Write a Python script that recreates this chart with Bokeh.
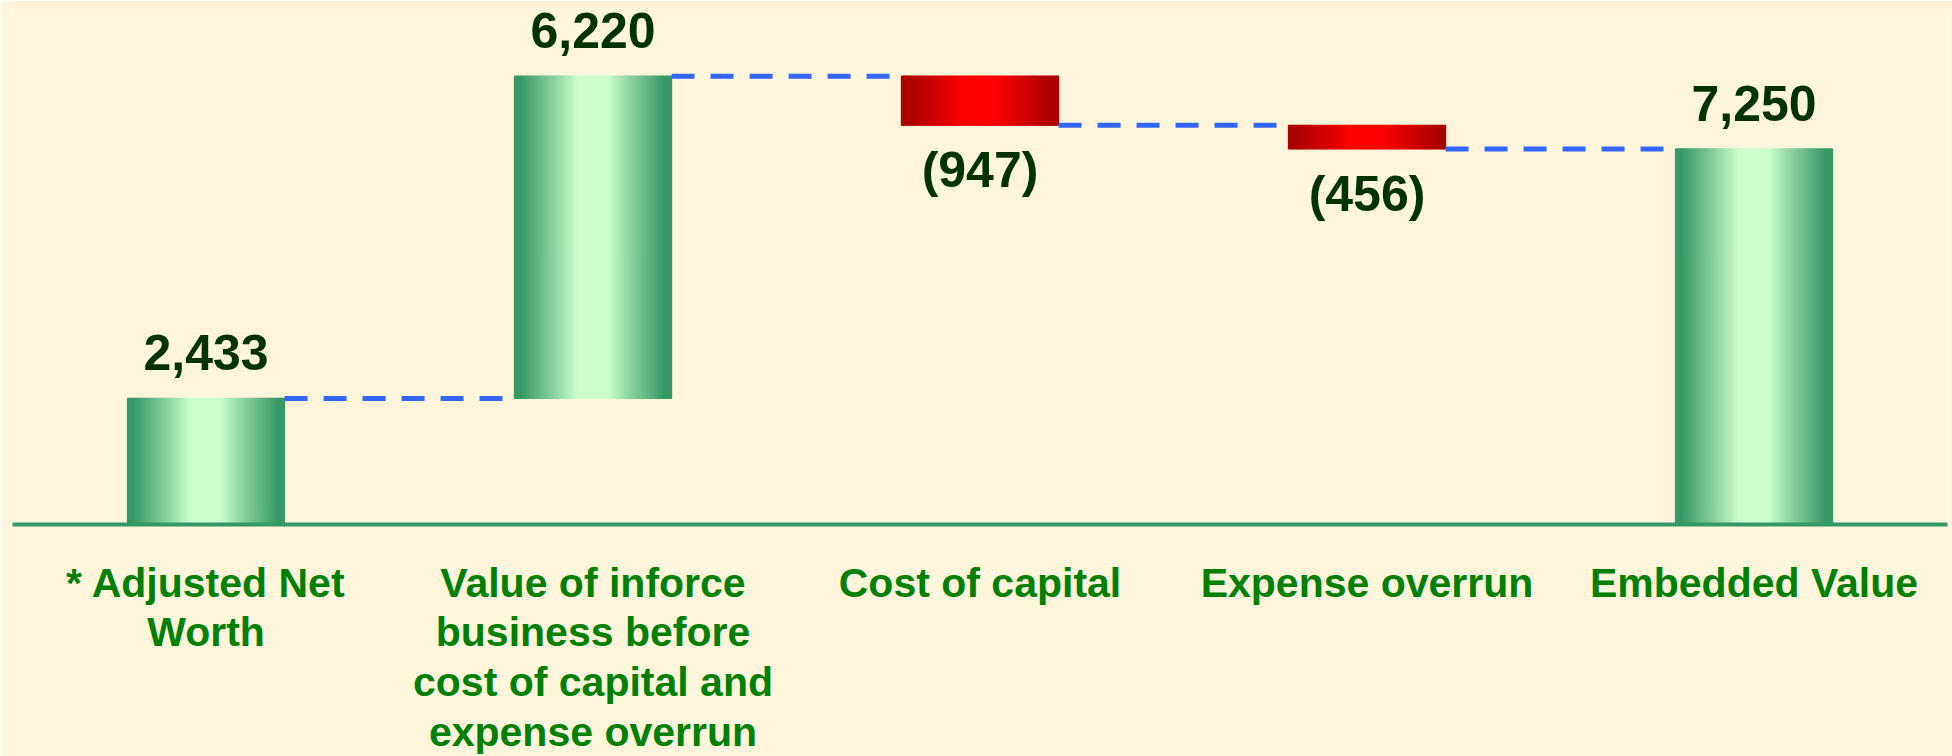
import numpy as np
from bokeh.plotting import figure
from bokeh.models import ColumnDataSource, Range1d, FixedTicker, LabelSet
from bokeh.core.properties import value
from bokeh.embed import file_html
from bokeh.resources import INLINE

# ---- data ----
categories = [
    "* Adjusted Net\nWorth",
    "Value of inforce\nbusiness before\ncost of capital and\nexpense overrun",
    "Cost of capital",
    "Expense overrun",
    "Embedded Value",
]
values = [2433, 6220, -947, -456, 7250]
is_total = [True, False, False, False, True]
value_labels = ["2,433", "6,220", "(947)", "(456)", "7,250"]

# ---- styles ----
BG = "#FFF5DA"
GREEN_EDGE, GREEN_MID = (0x36, 0x99, 0x66), (0xCC, 0xFF, 0xCC)
RED_EDGE, RED_MID = (0xAA, 0x00, 0x00), (0xFF, 0x00, 0x00)
BAR_W = 0.406

# waterfall geometry from data
bottoms, tops, levels = [], [], []
running = 0
for v, tot in zip(values, is_total):
    if tot:
        b, t = 0, v
        running = v
    else:
        start = running
        running = running + v
        b, t = min(start, running), max(start, running)
    bottoms.append(b)
    tops.append(t)
    levels.append(running)

p = figure(frame_width=1935, frame_height=516, output_backend="svg",
           toolbar_location=None, x_range=Range1d(-0.5, 4.5),
           y_range=Range1d(0, 9960), y_axis_location=None,
           min_border_left=12, min_border_right=5, min_border_top=8,
           min_border_bottom=232)
p.background_fill_color = BG
p.border_fill_color = BG
p.outline_line_color = None
p.grid.visible = False

# gradient bars made of thin strips
N = 60
u = (np.arange(N) + 0.5) / N
tt = np.abs(u - 0.5) * 2
mix = np.clip((tt - 0.2) / 0.72, 0, 1) ** 0.9

def blend(edge, mid, m):
    return "#%02x%02x%02x" % tuple(int(round(mid[k] + (edge[k] - mid[k]) * m)) for k in range(3))

base_cols = []
xs, bs, ts, cs = [], [], [], []
for i, v in enumerate(values):
    edge, mid = (GREEN_EDGE, GREEN_MID) if v >= 0 else (RED_EDGE, RED_MID)
    base_cols.append(blend(edge, mid, 0.5))
    for k in range(N):
        xs.append(i - BAR_W / 2 + u[k] * BAR_W)
        bs.append(bottoms[i])
        ts.append(tops[i])
        cs.append(blend(edge, mid, mix[k]))
# solid base under the strips (avoids seams)
p.vbar(x=list(range(len(values))), width=BAR_W, bottom=bottoms, top=tops,
       fill_color=base_cols, line_color=None)
p.vbar(x=xs, width=BAR_W / N, bottom=bs, top=ts, fill_color=cs,
       line_color=cs, line_width=1.2)

# connectors
cx0 = [i + BAR_W / 2 for i in range(len(values) - 1)]
cx1 = [i + 1 - BAR_W / 2 for i in range(len(values) - 1)]
cy = levels[:-1]
p.segment(x0=cx0, y0=cy, x1=cx1, y1=cy, line_color="#3366FF", line_width=5,
          line_dash="23 16")

# value labels
pos = [i for i, v in enumerate(values) if v >= 0]
neg = [i for i, v in enumerate(values) if v < 0]
src_pos = ColumnDataSource(dict(x=pos, y=[tops[i] for i in pos], t=[value_labels[i] for i in pos]))
src_neg = ColumnDataSource(dict(x=neg, y=[bottoms[i] for i in neg], t=[value_labels[i] for i in neg]))
common = dict(text_font=value("Liberation Sans"), text_font_style="bold",
              text_font_size="50px", text_color="#003300", text_align="center",
              text_baseline="alphabetic")
p.add_layout(LabelSet(x="x", y="y", text="t", source=src_pos, y_offset=28, **common))
p.add_layout(LabelSet(x="x", y="y", text="t", source=src_neg, y_offset=-62, **common))

# category axis
ax = p.xaxis[0]
ax.ticker = FixedTicker(ticks=list(range(len(categories))))
ax.major_label_overrides = {i: c for i, c in enumerate(categories)}
ax.major_tick_line_color = None
ax.minor_tick_line_color = None
ax.axis_line_color = "#339966"
ax.axis_line_width = 4
ax.major_label_standoff = 29
ax.major_label_text_font = "Liberation Sans"
ax.major_label_text_font_style = "bold"
ax.major_label_text_font_size = "41px"
ax.major_label_text_color = "#008000"
ax.major_label_text_line_height = 1.08

open("out.html", "w").write(file_html(p, INLINE))
